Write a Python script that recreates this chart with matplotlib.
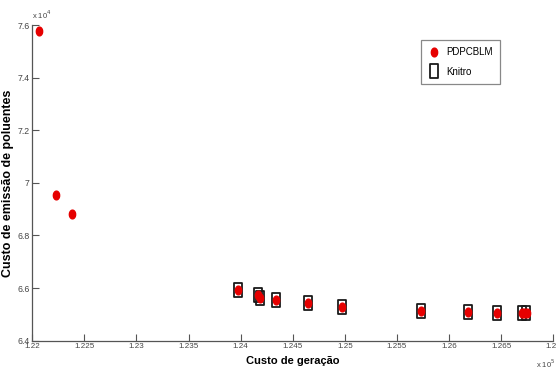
import numpy as np
import matplotlib
matplotlib.use("Agg")
import matplotlib.pyplot as plt
from matplotlib.path import Path

# custo de geracao (x) e custo de emissao (y)
pdpcblm_ger = [122064, 122225, 122378, 123974, 124168, 124188, 124336, 124650,
               124971, 125732, 126179, 126462, 126698, 126720, 126746]
pdpcblm_emi = [75780, 69530, 68820, 65940, 65720, 65620, 65530, 65440,
               65300, 65130, 65080, 65050, 65050, 65050, 65050]

knitro_ger = [123974, 124162, 124190, 124336, 124650, 124971, 125732, 126179,
              126462, 126703, 126738]
knitro_emi = [65940, 65750, 65620, 65530, 65440, 65300, 65130, 65080,
              65050, 65050, 65050]

xticks = [1.22, 1.225, 1.23, 1.235, 1.24, 1.245, 1.25, 1.255, 1.26, 1.265, 1.27]
xlabels = ["1.22", "1.225", "1.23", "1.235", "1.24", "1.245", "1.25", "1.255",
           "1.26", "1.265", "1.27"]
yticks = [6.4, 6.6, 6.8, 7.0, 7.2, 7.4, 7.6]
ylabels = ["6.4", "6.6", "6.8", "7", "7.2", "7.4", "7.6"]

fam = ["Liberation Sans Narrow", "Liberation Sans", "DejaVu Sans"]

# marcadores "esticados" na vertical, como na figura original
t = np.linspace(0, 2 * np.pi, 40)
dot = Path(np.column_stack([0.36 * np.cos(t), 0.5 * np.sin(t)]))
box = Path([(-0.31, -0.5), (0.31, -0.5), (0.31, 0.5), (-0.31, 0.5), (-0.31, -0.5)],
           [Path.MOVETO, Path.LINETO, Path.LINETO, Path.LINETO, Path.CLOSEPOLY])

fig = plt.figure(figsize=(5.56, 3.74), dpi=100)
ax = fig.add_axes([0.0581, 0.089, 0.937, 0.844])

xs = np.array(knitro_ger) / 1e5
ys = np.array(knitro_emi) / 1e4
ax.plot(xs, ys, linestyle="none", marker=box, markersize=10,
        markerfacecolor="none", markeredgecolor="#1a1a1a", markeredgewidth=1.3,
        label="Knitro", zorder=2)
xp = np.array(pdpcblm_ger) / 1e5
yp = np.array(pdpcblm_emi) / 1e4
ax.plot(xp, yp, linestyle="none", marker=dot, markersize=6.3,
        markerfacecolor="#e60000", markeredgecolor="#e60000",
        label="PDPCBLM", zorder=3)

ax.set_xlim(1.22, 1.27)
ax.set_ylim(6.4, 7.6)
ax.set_xticks(xticks)
ax.set_xticklabels(xlabels, family=fam, fontsize=5.8, color="#444444")
ax.set_yticks(yticks)
ax.set_yticklabels(ylabels, family=fam, fontsize=6.3, color="#444444")
ax.tick_params(direction="in", length=5, width=0.8, color="#555555", pad=2)

for s in ["top", "right"]:
    ax.spines[s].set_visible(False)
for s in ["left", "bottom"]:
    ax.spines[s].set_color("#555555")
    ax.spines[s].set_linewidth(0.9)

ax.set_xlabel("Custo de geração", family=fam, fontsize=8, fontweight="bold",
              labelpad=4)
ax.set_ylabel("Custo de emissão de poluentes", family=fam,
              fontsize=9, fontweight="bold", labelpad=2)

fig.text(32 / 556, 1 - 15 / 374, r"x 10$^4$", family=fam, fontsize=5.5,
         color="#444444", va="center", ha="left")
fig.text(536 / 556, 1 - 364 / 374, r"x 10$^5$", family=fam, fontsize=5.5,
         color="#444444", va="center", ha="left")

handles, labels = ax.get_legend_handles_labels()
leg = ax.legend(handles[::-1], labels[::-1], loc="upper left",
                bbox_to_anchor=(0.746, 0.952), borderaxespad=0, fancybox=False,
                framealpha=1, edgecolor="#888888", prop={"family": fam, "size": 7},
                handletextpad=0.7, borderpad=0.7, handlelength=1.2, labelspacing=1.0)
leg.get_frame().set_linewidth(0.9)

fig.savefig("out.png", dpi=100)
